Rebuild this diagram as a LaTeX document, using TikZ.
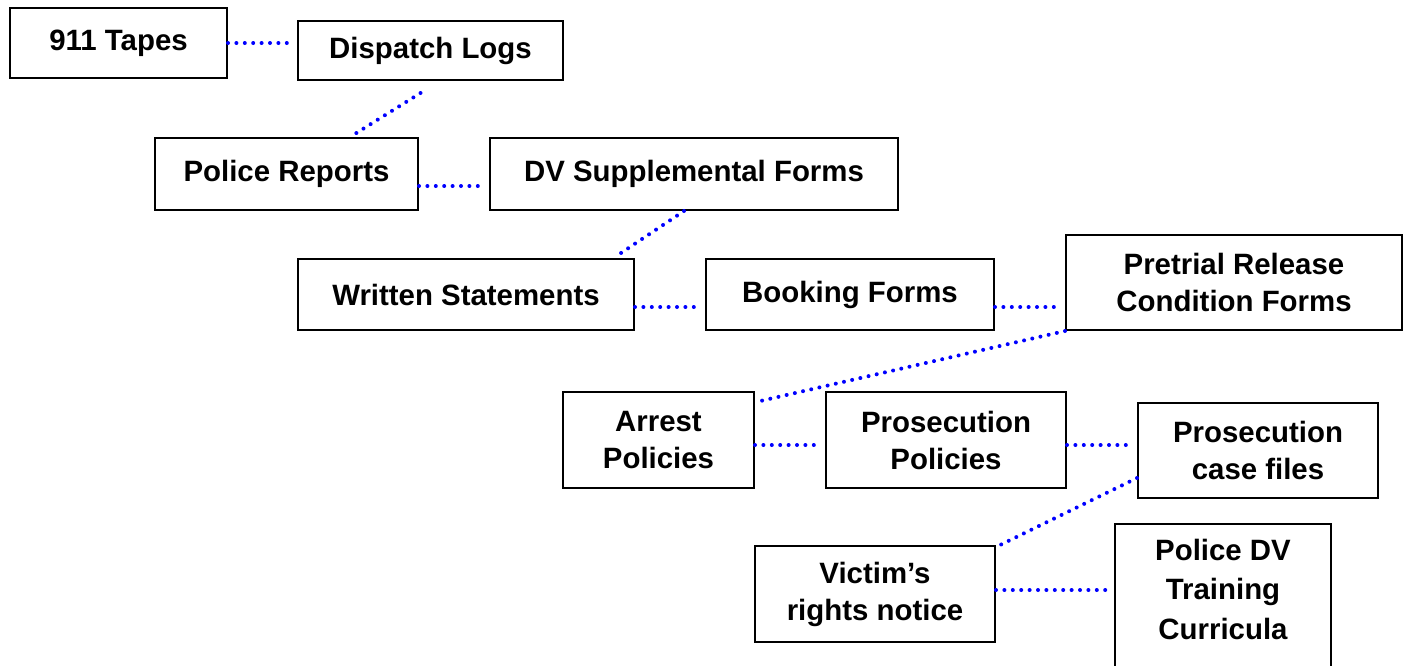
\documentclass[tikz,border=0pt]{standalone}
\usepackage{fontspec}
\setmainfont{Liberation Sans}
\usetikzlibrary{calc}
\definecolor{linkblue}{RGB}{0,0,255}
\tikzset{
  doc/.style={draw=black, line width=1pt, inner sep=0pt, align=center,
    font=\bfseries\fontsize{14.7}{18.5}\selectfont},
  link/.style={draw=linkblue, line width=2pt, line cap=round,
    dash pattern=on 0pt off 4.2pt},
}
\begin{document}
\begin{tikzpicture}[x=0.5pt, y=-0.5pt]
\useasboundingbox (0,0) rectangle (1408,665);
\clip (0,0) rectangle (1408,665);
\fill[white] (0,0) rectangle (1408,665);

% record boxes (centres in px, sizes in pt)
\node[doc, minimum width=108.5pt, minimum height=35pt]   (tapes)     at (118.5,43)  {911 Tapes};
\node[doc, minimum width=132.5pt, minimum height=29.5pt] (dispatch)  at (430.5,50.5) {Dispatch Logs};
\node[doc, minimum width=131.5pt, minimum height=36pt]   (reports)   at (286.5,174) {Police Reports};
\node[doc, minimum width=204pt,   minimum height=36pt]   (dvsupp)    at (694,174)   {DV Supplemental Forms};
\node[doc, minimum width=168pt,   minimum height=35.5pt] (written)   at (466,294.5) {Written Statements};
\node[doc, minimum width=144pt,   minimum height=35.5pt] (booking)   at (850,294.5) {Booking Forms};
\node[doc, minimum width=168pt,   minimum height=47.5pt] (pretrial)  at (1234,282.5) {Pretrial Release\\Condition Forms};
\node[doc, minimum width=95.5pt,  minimum height=48pt]   (arrest)    at (658.5,440) {Arrest\\Policies};
\node[doc, minimum width=120pt,   minimum height=48pt]   (prospol)   at (946,440)   {Prosecution\\Policies};
\node[doc, minimum width=120pt,   minimum height=47.5pt] (casefiles) at (1258,450.5) {Prosecution\\case files};
\node[doc, minimum width=120pt,   minimum height=48pt]   (victim)    at (875,594)   {Victim’s\\rights notice};
\node[doc, minimum width=108pt,   minimum height=74pt, text depth=9pt,
      font=\bfseries\fontsize{14.7}{19.75}\selectfont] (training) at (1223,598)
      {Police DV\\Training\\Curricula};

% dotted links between records
\draw[link] (tapes.east) -- ($(tapes.east -| dispatch.west)+(-3,0)$);
\draw[link] ($(dispatch.south)+(-10,12)$) -- ($(reports.north)+(63.5,0)$);
\draw[link] ($(reports.east)+(0,12)$) -- ($(reports.east -| dvsupp.west)+(-3,12)$);
\draw[link] ($(dvsupp.south)+(-10,0)$) -- ($(written.north)+(149,-1)$);
\draw[link] ($(written.east)+(0,12.5)$) -- ($(written.east -| booking.west)+(-4,12.5)$);
\draw[link] ($(booking.east)+(0,12.5)$) -- ($(booking.east -| pretrial.west)+(-3,12.5)$);
\draw[link] (pretrial.south west) -- ($(arrest.north east)+(1,11)$);
\draw[link] ($(arrest.east)+(0,5)$) -- ($(arrest.east -| prospol.west)+(-4,5)$);
\draw[link] ($(prospol.east)+(0,5)$) -- ($(prospol.east -| casefiles.west)+(-4,5)$);
\draw[link] ($(casefiles.west)+(0,27.5)$) -- ($(victim.north east)+(0,2)$);
\draw[link] ($(victim.east)+(0,-4)$) -- ($(victim.east -| training.west)+(-5,-4)$);
\end{tikzpicture}
\end{document}
